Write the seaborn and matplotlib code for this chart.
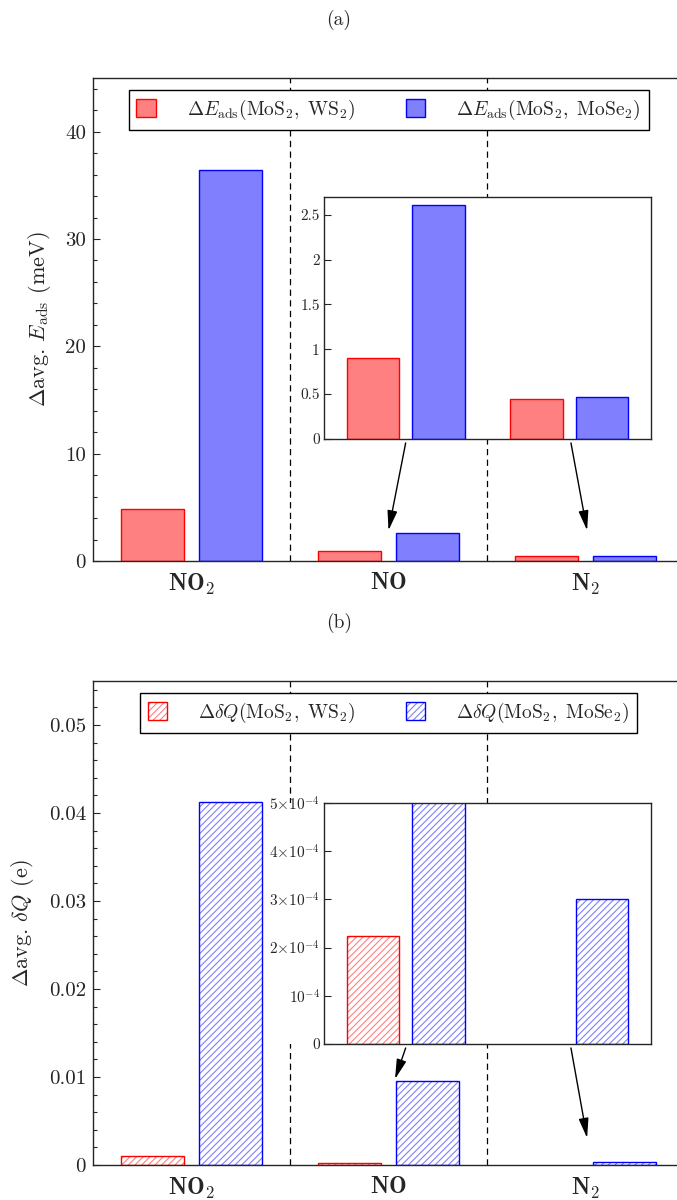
import numpy as np
import pandas as pd
import matplotlib
matplotlib.use("Agg")
import matplotlib.pyplot as plt
from matplotlib.patches import Patch, Rectangle
from matplotlib.legend_handler import HandlerTuple
from matplotlib.ticker import MultipleLocator, FuncFormatter
import seaborn as sns

# --- data ---
gases = ["NO2", "NO", "N2"]
gas_labels = [r"$\mathbf{NO}_\mathbf{2}$", r"$\mathbf{NO}$", r"$\mathbf{N}_\mathbf{2}$"]
pairs = ["WS2", "MoSe2"]

# (a) difference of avg. adsorption energy, meV
eads_ws2 = [4.85, 0.90, 0.45]
eads_mose2 = [36.4, 2.61, 0.47]

# (b) difference of avg. charge transfer, e
dq_ws2 = [0.00105, 0.000225, 0.0]
dq_mose2 = [0.0412, 0.0095, 0.0003]

legend_a = [r"$\Delta E_{\mathrm{ads}}(\mathrm{MoS_2},\ \mathrm{WS_2})$",
            r"$\Delta E_{\mathrm{ads}}(\mathrm{MoS_2},\ \mathrm{MoSe_2})$"]
legend_b = [r"$\Delta \delta Q(\mathrm{MoS_2},\ \mathrm{WS_2})$",
            r"$\Delta \delta Q(\mathrm{MoS_2},\ \mathrm{MoSe_2})$"]

RED, BLUE = "#ff0000", "#0000ff"
RED_FILL, BLUE_FILL = "#ff8080", "#8080ff"
HATCH = "/////"

sns.set_style("ticks")
plt.rcParams.update({
    "font.family": "serif",
    "font.serif": ["cmr10"],
    "mathtext.fontset": "cm",
    "axes.formatter.use_mathtext": True,
    "axes.unicode_minus": False,
    "axes.linewidth": 1.0,
    "hatch.linewidth": 0.8,
    "xtick.direction": "in",
    "ytick.direction": "in",
})


def make_df(ws2, mose2):
    return pd.DataFrame({
        "gas": gases * 2,
        "pair": [pairs[0]] * 3 + [pairs[1]] * 3,
        "value": list(ws2) + list(mose2),
    })


def draw_bars(ax, df, hatched=False):
    sns.barplot(data=df, x="gas", y="value", hue="pair", order=gases,
                hue_order=pairs, palette=[RED_FILL, BLUE_FILL], width=0.8,
                gap=0.2, saturation=1, legend=False, ax=ax)
    for p in list(ax.patches):
        fc = p.get_facecolor()
        edge = RED if fc[0] > fc[2] else BLUE
        light = RED_FILL if fc[0] > fc[2] else BLUE_FILL
        if p.get_height() == 0:
            p.set_visible(False)
            continue
        if hatched:
            p.set_facecolor("none")
            p.set_edgecolor(light)
            p.set_hatch(HATCH)
            p.set_linewidth(0)
            ax.add_patch(Rectangle(p.get_xy(), p.get_width(), p.get_height(),
                                   fill=False, edgecolor=edge, lw=1.0, zorder=1.1))
        else:
            p.set_edgecolor(edge)
            p.set_linewidth(1.0)
    ax.set_xlabel("")
    ax.set_ylabel("")


def style_main(ax, ymax, major, minor, ylabel):
    ax.set_xlim(-0.5, 2.5)
    ax.set_ylim(0, ymax)
    ax.yaxis.set_major_locator(MultipleLocator(major))
    ax.yaxis.set_minor_locator(MultipleLocator(minor))
    ax.yaxis.set_major_formatter(FuncFormatter(lambda v, pos: "%g" % round(v, 6)))
    ax.set_xticks([0, 1, 2], gas_labels)
    ax.tick_params(axis="x", length=0, pad=8, labelsize=17)
    ax.tick_params(axis="y", which="major", length=5, width=0.8, pad=5, labelsize=15)
    ax.tick_params(axis="y", which="minor", length=3, width=0.8)
    ax.set_ylabel(ylabel, fontsize=16, labelpad=9)
    for xv in [0.5, 1.5]:
        ax.axvline(xv, color="k", lw=0.9, ls=(0, (5, 3.5)), zorder=0.5)


def add_legend(ax, handles, labels):
    leg = ax.legend(handles, labels, loc="upper center", ncol=2,
                    bbox_to_anchor=(0.5, 0.995), fontsize=14, frameon=True,
                    fancybox=False, framealpha=1, edgecolor="k",
                    handlelength=1.0, handleheight=1.05, handletextpad=1.6,
                    columnspacing=2.6, borderpad=0.4,
                    handler_map={tuple: HandlerTuple(ndivide=1)})
    leg.get_frame().set_linewidth(1.0)
    leg.set_zorder(5)


fig = plt.figure(figsize=(6.77, 12), dpi=100)

# ---------------- (a) ----------------
df_a = make_df(eads_ws2, eads_mose2)
ax_a = fig.add_axes([0.1374, 0.5325, 0.873, 0.4025])
draw_bars(ax_a, df_a)
style_main(ax_a, 45, 10, 2, r"$\Delta$avg. $E_{\mathrm{ads}}$ (meV)")
handles_a = [Patch(facecolor=RED_FILL, edgecolor=RED, lw=1.0),
             Patch(facecolor=BLUE_FILL, edgecolor=BLUE, lw=1.0)]
add_legend(ax_a, handles_a, legend_a)
ax_a.add_patch(Rectangle((295 / 677, 1 - 439 / 1200), 29 / 677, 242 / 1200,
                         transform=fig.transFigure, facecolor="white",
                         edgecolor="none", zorder=0.8, clip_on=False))

arrow = dict(arrowstyle="-|>,head_length=0.6,head_width=0.15", color="k",
             lw=1.0, shrinkA=0, shrinkB=0, mutation_scale=20)
ax_a.annotate("", xy=(1.0, 2.85), xytext=(1.087, 11.0), arrowprops=arrow)
ax_a.annotate("", xy=(2.008, 2.85), xytext=(1.926, 11.0), arrowprops=arrow)

ins_a = fig.add_axes([0.4786, 0.6342, 0.4830, 0.2017])
draw_bars(ins_a, df_a)
ins_a.set_xlim(0.5, 2.5)
ins_a.set_ylim(0, 2.7)
ins_a.set_xticks([])
ins_a.yaxis.set_major_locator(MultipleLocator(0.5))
ins_a.yaxis.set_major_formatter(FuncFormatter(lambda v, pos: "%g" % round(v, 6)))
ins_a.tick_params(axis="y", length=5, width=0.8, pad=3, labelsize=11)
ins_a.set_facecolor("white")

fig.text(0.5007, 1 - 20 / 1200, "(a)", ha="center", va="center", fontsize=14)

# ---------------- (b) ----------------
df_b = make_df(dq_ws2, dq_mose2)
ax_b = fig.add_axes([0.1374, 0.02917, 0.873, 0.4033])
draw_bars(ax_b, df_b, hatched=True)
style_main(ax_b, 0.055, 0.01, 0.002, r"$\Delta$avg. $\delta Q$ (e)")
handles_b = [(Patch(facecolor="white", edgecolor=RED_FILL, hatch=HATCH, lw=0),
              Patch(facecolor="none", edgecolor=RED, lw=1.0)),
             (Patch(facecolor="white", edgecolor=BLUE_FILL, hatch=HATCH, lw=0),
              Patch(facecolor="none", edgecolor=BLUE, lw=1.0))]
add_legend(ax_b, handles_b, legend_b)
ax_b.add_patch(Rectangle((268 / 677, 0.13), 56 / 677, 0.2008,
                         transform=fig.transFigure, facecolor="white",
                         edgecolor="none", zorder=0.8, clip_on=False))
ax_b.annotate("", xy=(1.033, 0.00977), xytext=(1.087, 0.0133), arrowprops=arrow)
ax_b.annotate("", xy=(2.008, 0.00307), xytext=(1.926, 0.0133), arrowprops=arrow)

ins_b = fig.add_axes([0.4786, 0.13, 0.4830, 0.2008])
draw_bars(ins_b, df_b, hatched=True)
ins_b.set_xlim(0.5, 2.5)
ins_b.set_ylim(0, 5e-4)
ins_b.set_xticks([])
ins_b.yaxis.set_major_locator(MultipleLocator(1e-4))


def sci_fmt(v, pos):
    m = int(round(v / 1e-4))
    if m == 0:
        return "0"
    if m == 1:
        return r"$10^{-4}$"
    return r"$%d{\times}10^{-4}$" % m


ins_b.yaxis.set_major_formatter(FuncFormatter(sci_fmt))
ins_b.yaxis.get_offset_text().set_visible(False)
ins_b.tick_params(axis="y", length=5, width=0.8, pad=3, labelsize=11)
ins_b.set_facecolor("white")

fig.text(0.5007, 1 - 623 / 1200, "(b)", ha="center", va="center", fontsize=14)

fig.savefig("out.png", dpi=100)
